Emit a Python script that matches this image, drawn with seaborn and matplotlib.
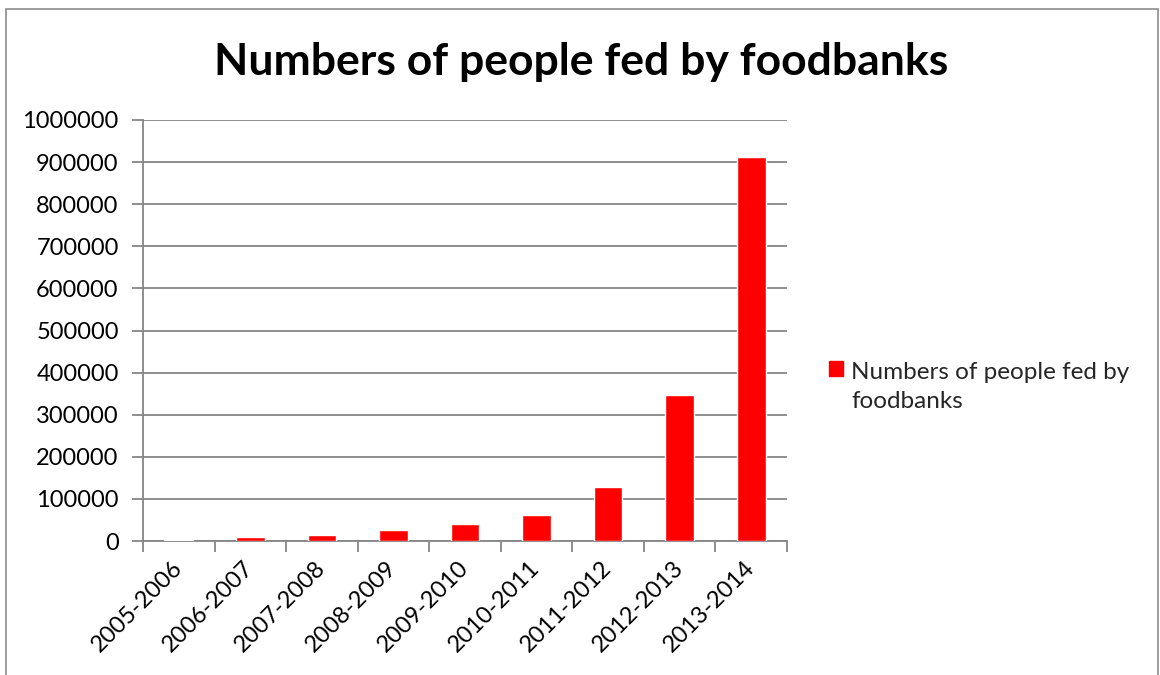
import matplotlib
matplotlib.use("Agg")
import matplotlib.pyplot as plt
import matplotlib.patches as mpatches
import matplotlib.transforms as mtransforms
from matplotlib.legend_handler import HandlerPatch
import seaborn as sns
import pandas as pd

categories = ["2005-2006", "2006-2007", "2007-2008", "2008-2009", "2009-2010",
              "2010-2011", "2011-2012", "2012-2013", "2013-2014"]
values = [2814, 9174, 13849, 25899, 40898, 61468, 128697, 346992, 913138]
series_name = "Numbers of people fed by foodbanks"
y_ticks = list(range(0, 1000001, 100000))

sns.set_theme(style="white")
plt.rcParams['font.family'] = ['Lato', 'DejaVu Sans']

df = pd.DataFrame({"period": categories, "people": values})

fig = plt.figure(figsize=(11.6, 6.75), dpi=100)
ax = fig.add_axes([143/1160, 1 - 541/675, (787 - 143)/1160, (541 - 120)/675])

sns.barplot(data=df, x="period", y="people", color="#ff0000", saturation=1,
            width=0.4, ax=ax, zorder=3)

grid_c = "#868686"
fs = 17
ax.set_ylim(0, 1000000)
ax.set_xlim(-0.5, len(categories) - 0.5)
ax.set_yticks(y_ticks)
ax.set_yticklabels([str(v) for v in y_ticks], fontsize=fs, color="black")
ax.yaxis.grid(True, color=grid_c, linewidth=1.3, zorder=0)
ax.set_axisbelow(True)
ax.set_xlabel("")
ax.set_ylabel("")

# x ticks at category boundaries
ax.set_xticks([i - 0.5 for i in range(len(categories) + 1)], minor=False)
ax.set_xticklabels([""] * (len(categories) + 1))
ax.set_xticks(range(len(categories)), minor=True)
labels = ax.set_xticklabels(categories, minor=True, rotation=45, ha="right",
                            va="center", rotation_mode="anchor", fontsize=fs,
                            color="black")
offset = mtransforms.ScaledTranslation(12/100, 0, fig.dpi_scale_trans)
for lab in labels:
    lab.set_transform(lab.get_transform() + offset)
ax.tick_params(axis="x", which="major", direction="out", length=8, width=1.3,
               color=grid_c, bottom=True)
ax.tick_params(axis="x", which="minor", length=0, pad=17, bottom=True)
ax.tick_params(axis="y", direction="out", length=8, width=1.3, color=grid_c,
               left=True, pad=9.5)

for s in ["top", "right"]:
    ax.spines[s].set_visible(False)
for s in ["left", "bottom"]:
    ax.spines[s].set_color(grid_c)
    ax.spines[s].set_linewidth(1.3)

fig.text(0.5 * (215 + 948) / 1160, 1 - 62/675, series_name, ha="center",
         va="center", fontsize=32, fontweight="bold", color="black")


def top_square(legend, orig_handle, xdescent, ydescent, width, height, fontsize):
    shift = 0.75 * fontsize
    return mpatches.Rectangle((-xdescent, -ydescent + shift), width, height)


handle = mpatches.Patch(color="#ff0000")
leg = fig.legend([handle], ["Numbers of people fed by\nfoodbanks"],
                 loc="upper left", bbox_to_anchor=(829/1160, 1 - 362/675),
                 frameon=False, fontsize=17.5, handlelength=0.58,
                 handleheight=0.58, handletextpad=0.33, borderpad=0,
                 borderaxespad=0, labelspacing=0.2,
                 handler_map={mpatches.Patch: HandlerPatch(patch_func=top_square)})
for t in leg.get_texts():
    t.set_linespacing(1.45)

# outer chart border
fig.patches.append(mpatches.Rectangle((6/1160, -0.05), (1158 - 6)/1160,
                                      1.05 - 9/675, transform=fig.transFigure,
                                      fill=False, edgecolor="#8c8c8c",
                                      linewidth=1.2))

fig.savefig("out.png", dpi=100, facecolor="white")
